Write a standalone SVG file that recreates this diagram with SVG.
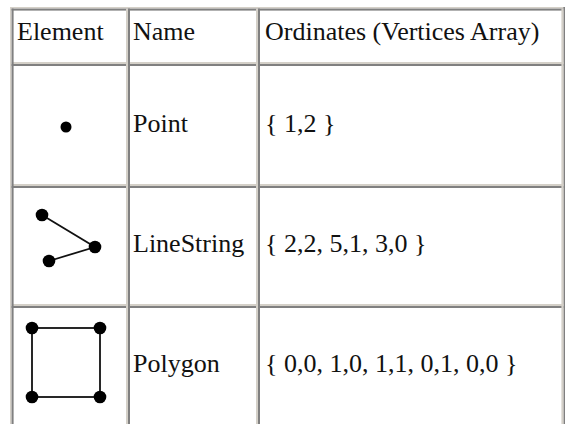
<svg xmlns="http://www.w3.org/2000/svg" width="565" height="424" viewBox="0 0 565 424">
<style>
.t{font-family:"Liberation Serif","Times New Roman",serif;font-size:26px;fill:#111}
.lt{fill:#d4d0c8}
.dk{fill:#808080}
.g{stroke:#111;stroke-width:1.8;fill:none}
.d{fill:#000}
</style>
<rect width="565" height="424" fill="#fff"/>
<g id="borders">
<rect class="lt" x="10" y="7" width="555" height="1.6"/>
<rect class="lt" x="10" y="7" width="1.6" height="417"/>
<rect class="dk" x="563.4" y="7" width="1.6" height="417"/>
<rect class="dk" x="11.6" y="8.6" width="551.8" height="2"/>
<rect class="dk" x="11.6" y="64" width="551.8" height="2"/>
<rect class="dk" x="11.6" y="186" width="551.8" height="2"/>
<rect class="dk" x="11.6" y="306" width="551.8" height="2"/>
<rect class="lt" x="11.6" y="62" width="551.8" height="2"/>
<rect class="lt" x="11.6" y="184" width="551.8" height="2"/>
<rect class="lt" x="11.6" y="304" width="551.8" height="2"/>
<rect class="dk" x="11.6" y="8.6" width="2" height="416"/>
<rect class="dk" x="128" y="8.6" width="2" height="416"/>
<rect class="dk" x="258" y="8.6" width="2" height="416"/>
<rect class="lt" x="126" y="8.6" width="2" height="416"/>
<rect class="lt" x="256" y="8.6" width="2" height="416"/>
<rect class="lt" x="561.4" y="8.6" width="2" height="416"/>
</g>
<g id="header">
<text class="t" x="17" y="40">Element</text>
<text class="t" x="133" y="40">Name</text>
<text class="t" x="265" y="40">Ordinates (Vertices Array)</text>
</g>
<g id="row-point">
<circle class="d" cx="66" cy="127" r="5.5"/>
<text class="t" x="133" y="132">Point</text>
<text class="t" x="265" y="132">{ 1,2 }</text>
</g>
<g id="row-linestring">
<polyline class="g" points="42,215 95,247 49,261"/>
<circle class="d" cx="42" cy="215" r="6.3"/>
<circle class="d" cx="95" cy="247" r="6.3"/>
<circle class="d" cx="49" cy="261" r="6.3"/>
<text class="t" x="133" y="252">LineString</text>
<text class="t" x="265" y="252">{ 2,2, 5,1, 3,0 }</text>
</g>
<g id="row-polygon">
<rect class="g" x="32" y="328" width="68" height="69"/>
<circle class="d" cx="32" cy="328" r="6.3"/>
<circle class="d" cx="100" cy="328" r="6.3"/>
<circle class="d" cx="32" cy="397" r="6.3"/>
<circle class="d" cx="100" cy="397" r="6.3"/>
<text class="t" x="133" y="372">Polygon</text>
<text class="t" x="265" y="372">{ 0,0, 1,0, 1,1, 0,1, 0,0 }</text>
</g>
</svg>
